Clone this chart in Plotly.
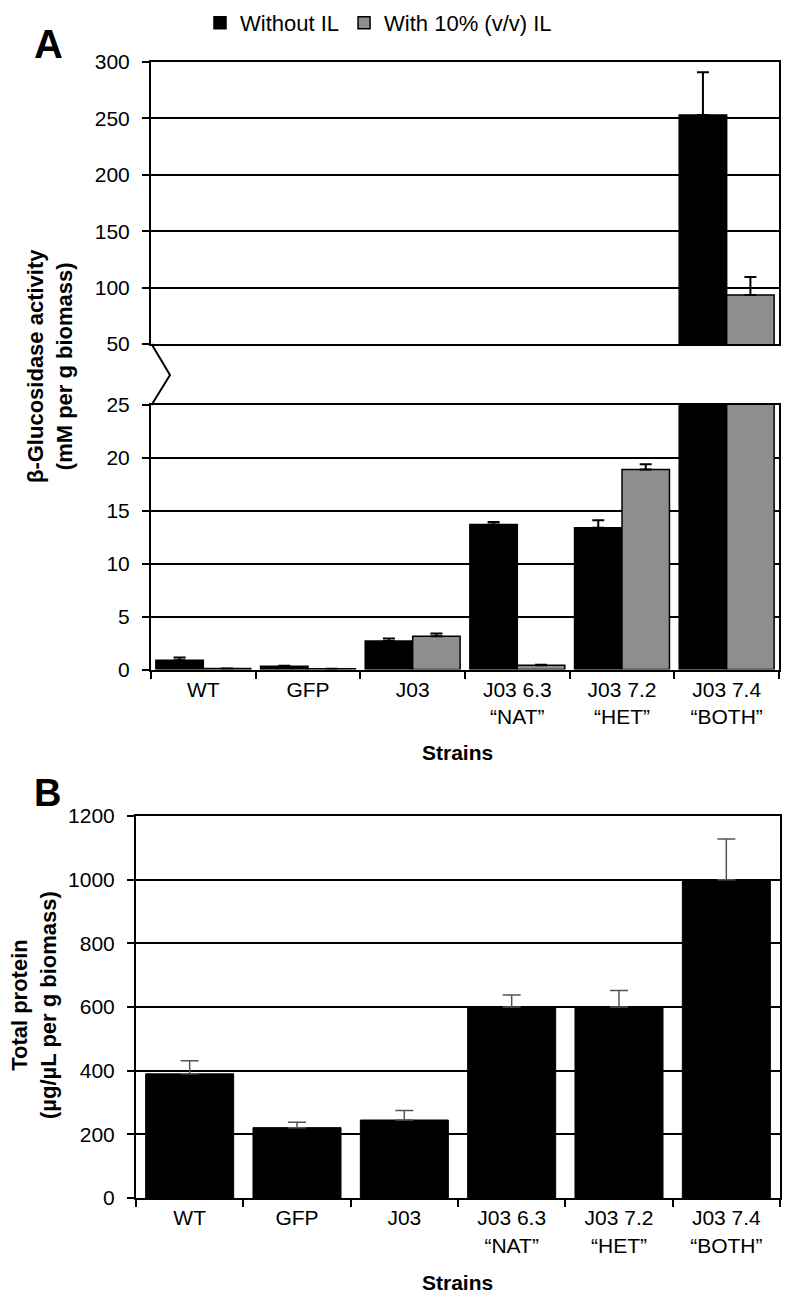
import plotly.graph_objects as go

# ---------------- data ----------------
strains = ["WT", "GFP", "J03", "J03 6.3<br>\u201cNAT\u201d", "J03 7.2<br>\u201cHET\u201d", "J03 7.4<br>\u201cBOTH\u201d"]
without_il = [0.88, 0.31, 2.7, 13.7, 13.4, 253]
without_il_err = [0.25, 0.04, 0.22, 0.25, 0.7, 38]
with_il = [0.1, 0.06, 3.15, 0.4, 18.9, 93.5]
with_il_err = [0.0, 0.0, 0.25, 0.05, 0.5, 16]
total_protein = [390, 221, 245, 600, 600, 1000]
total_protein_err = [41, 17, 30, 38, 52, 128]

upper_ticks = [50, 100, 150, 200, 250, 300]
lower_ticks = [0, 5, 10, 15, 20, 25]
protein_ticks = [0, 200, 400, 600, 800, 1000, 1200]

# page is shown with the browser's default 8px body margin
PAGE_OFF = 8
WF, HF = 799 - 2 * PAGE_OFF, 1305 - 2 * PAGE_OFF
ML, MR, MT, MB = 40, 4, 40, 40
PW, PH = WF - ML - MR, HF - MT - MB

FONT = "Liberation Sans, Arial, sans-serif"
BLACK = "#000000"
GRAY = "#8e8e8e"


def fx(p):
    return (p - PAGE_OFF - ML) / PW


def fy(p):
    return 1 - (p - PAGE_OFF - MT) / PH


fig = go.Figure()

# Panel A – upper (broken) part and lower part
for xa, ya, show in [("x", "y", True), ("x2", "y2", False)]:
    fig.add_trace(go.Bar(
        x=strains, y=without_il, name="Without IL", xaxis=xa, yaxis=ya,
        marker=dict(color=BLACK, line=dict(color=BLACK, width=1.5)),
        error_y=dict(type="data", symmetric=False, array=without_il_err,
                     arrayminus=[0] * len(strains), color=BLACK, thickness=2, width=6),
        showlegend=show, legendgroup="wo",
    ))
    fig.add_trace(go.Bar(
        x=strains, y=with_il, name="With 10% (v/v) IL", xaxis=xa, yaxis=ya,
        marker=dict(color=GRAY, line=dict(color=BLACK, width=1.5)),
        error_y=dict(type="data", symmetric=False, array=with_il_err,
                     arrayminus=[0] * len(strains), color=BLACK, thickness=2, width=6),
        showlegend=show, legendgroup="w",
    ))

# Panel B
fig.add_trace(go.Bar(
    x=strains, y=total_protein, name="Total protein", xaxis="x3", yaxis="y3",
    width=0.82,
    marker=dict(color=BLACK, line=dict(color=BLACK, width=1)),
    error_y=dict(type="data", symmetric=False, array=total_protein_err,
                 arrayminus=[0] * len(strains), color="#555555", thickness=1.5, width=9),
    showlegend=False,
))

axis_common = dict(showline=True, linecolor=BLACK, linewidth=2, mirror=True, automargin=False,
                   tickfont=dict(family=FONT, size=21, color=BLACK), zeroline=False)
tick_common = dict(ticks="outside", ticklen=7, tickwidth=2, tickcolor=BLACK)
grid_common = dict(showgrid=True, gridcolor=BLACK, gridwidth=2)

xA = [fx(151), fx(779)]
xB = [fx(136), fx(780)]

fig.update_layout(
    width=WF, height=HF,
    margin=dict(l=ML, r=MR, t=MT, b=MB, autoexpand=False),
    plot_bgcolor="white", paper_bgcolor="white",
    barmode="group", bargap=0.093, bargroupgap=0,
    font=dict(family=FONT, color=BLACK),
    legend=dict(orientation="h", x=fx(200), y=fy(23), xanchor="left", yanchor="middle",
                font=dict(family=FONT, size=22, color=BLACK),
                itemwidth=30, tracegroupgap=0, bgcolor="rgba(0,0,0,0)"),
    xaxis=dict(domain=xA, anchor="y", showticklabels=False, ticks="",
               showgrid=False, **axis_common),
    yaxis=dict(domain=[fy(344), fy(62)], anchor="x", range=[50, 300], ticklabelstandoff=8,
               tickvals=upper_ticks, **tick_common, **grid_common, **axis_common),
    xaxis2=dict(domain=xA, anchor="y2", tickson="boundaries", showgrid=False,
                **tick_common, **axis_common),
    yaxis2=dict(domain=[fy(669.5), fy(405)], anchor="x2", range=[0, 25], ticklabelstandoff=8,
                tickvals=lower_ticks, **tick_common, **grid_common, **axis_common),
    xaxis3=dict(domain=xB, anchor="y3", tickson="boundaries", showgrid=False,
                **tick_common, **axis_common),
    yaxis3=dict(domain=[fy(1198), fy(816)], anchor="x3", range=[0, 1200], ticklabelstandoff=8,
                tickvals=protein_ticks, **tick_common, **grid_common, **axis_common),
)

# axis break zig-zag
fig.add_shape(type="path", xref="paper", yref="paper",
              path=f"M {fx(151.5)},{fy(344)} L {fx(170)},{fy(375)} L {fx(151.5)},{fy(405)}",
              line=dict(color=BLACK, width=2))

annotations = [
    dict(text="<b>A</b>", x=fx(48), y=fy(44), font=dict(size=40)),
    dict(text="<b>B</b>", x=fx(47), y=fy(793), font=dict(size=38)),
    dict(text="<b>Strains</b>", x=fx(457), y=fy(752), font=dict(size=21)),
    dict(text="<b>Strains</b>", x=fx(457), y=fy(1296), font=dict(size=21), yanchor="bottom"),
    dict(text="<b>\u03b2-Glucosidase activity<br>(mM per g biomass)</b>", x=fx(50), y=fy(366),
         textangle=-90, font=dict(size=22)),
    dict(text="<b>Total protein<br>(\u00b5g/\u00b5L per g biomass)</b>", x=fx(34), y=fy(1005),
         textangle=-90, font=dict(size=22)),
]
for a in annotations:
    a.setdefault("yanchor", "middle")
    a.update(xref="paper", yref="paper", showarrow=False, xanchor="center")
    a["font"].update(family=FONT, color=BLACK)
    fig.add_annotation(**a)

fig.write_html("out.html")
